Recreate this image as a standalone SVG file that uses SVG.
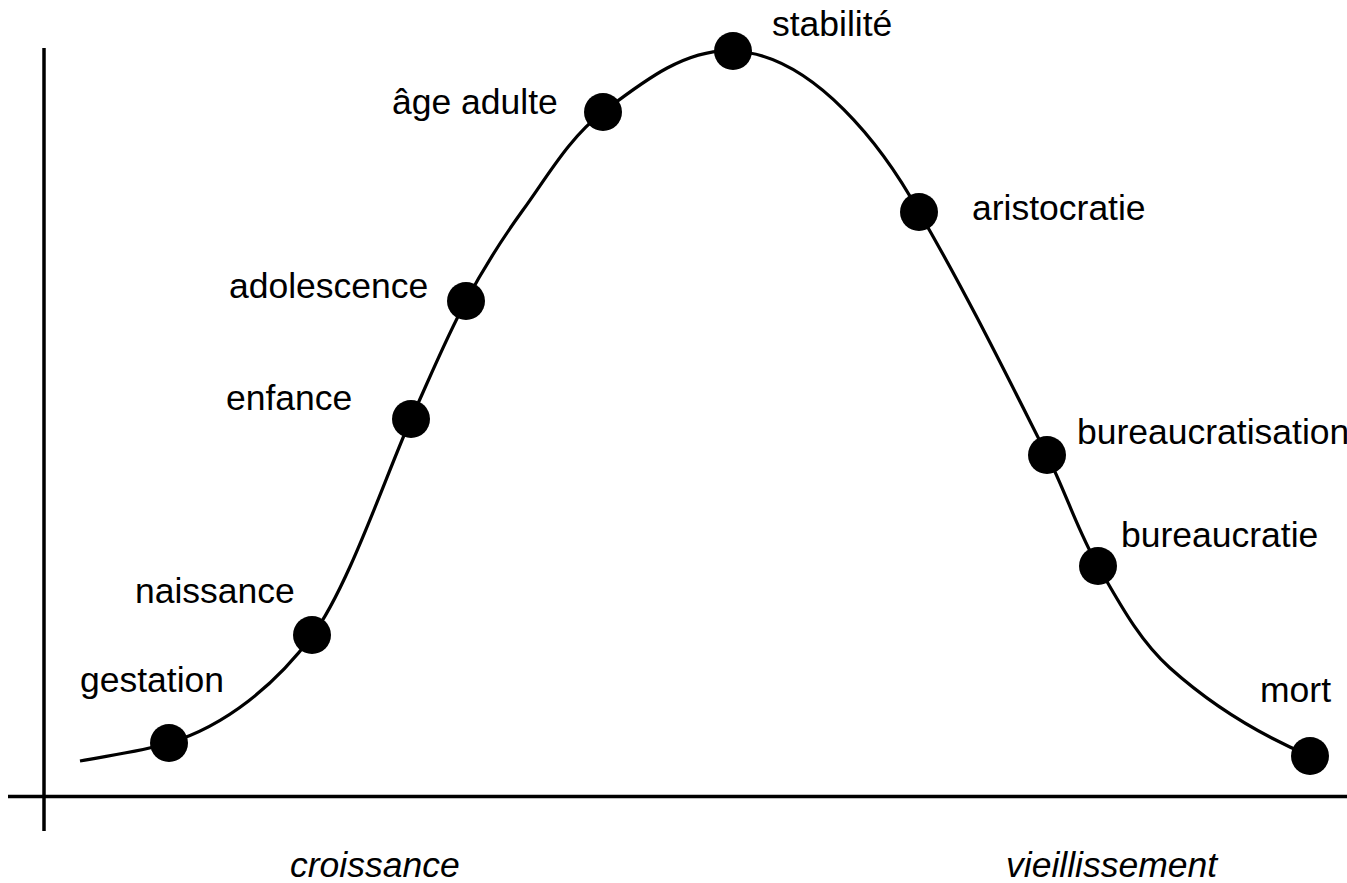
<svg xmlns="http://www.w3.org/2000/svg" width="1347" height="883" viewBox="0 0 1347 883">
  <style>
    .axis { stroke: #000; stroke-width: 3.5; fill: none; }
    .curve { stroke: #000; stroke-width: 3.2; fill: none; stroke-linecap: butt; }
    .dot { fill: #000; }
    .label { font-family: "Liberation Sans", Arial, sans-serif; font-size: 35.5px; fill: #000; }
    .phase { font-family: "Liberation Sans", Arial, sans-serif; font-size: 35.5px; font-style: italic; fill: #000; }
  </style>
  <rect width="1347" height="883" fill="#fff"/>

  <!-- axes -->
  <g id="axes">
    <line class="axis" x1="44" y1="48" x2="44" y2="831"/>
    <line class="axis" x1="8" y1="796.5" x2="1347" y2="796.5"/>
  </g>

  <!-- life-cycle curve -->
  <g id="connectors">
    <path class="curve" d="M80,761 C109.7,755.3 140,751.7 169,743 C226,725.9 276.4,683.7 312,636 C348,588 386,475 411,419 C429.1,379.5 445.5,339.2 466,301 C482.9,269.5 502,239 523,210 C547.8,175.8 569.4,137.5 603,112 C641.2,83.1 685.1,48 733,51 C814,54 885,150 919,212 C965.1,291.1 1005.7,373.4 1047,455 C1065.4,491.3 1077.6,530.8 1098,566 C1118.8,602 1139,640.3 1170,668 C1211,704.8 1259.3,734.5 1310,756"/>
  </g>

  <g id="gestation"><circle class="dot" cx="169" cy="743" r="19"/><text class="label" x="80" y="692">gestation</text></g>
  <g id="naissance"><circle class="dot" cx="312" cy="635" r="19"/><text class="label" x="135" y="603">naissance</text></g>
  <g id="enfance"><circle class="dot" cx="411" cy="419" r="19"/><text class="label" x="226" y="410">enfance</text></g>
  <g id="adolescence"><circle class="dot" cx="466" cy="301" r="19"/><text class="label" x="229" y="298">adolescence</text></g>
  <g id="age-adulte"><circle class="dot" cx="603" cy="112" r="19"/><text class="label" x="392" y="114">âge adulte</text></g>
  <g id="stabilite"><circle class="dot" cx="733" cy="51" r="19"/><text class="label" x="772" y="36">stabilité</text></g>
  <g id="aristocratie"><circle class="dot" cx="919" cy="212" r="19"/><text class="label" x="972" y="220">aristocratie</text></g>
  <g id="bureaucratisation"><circle class="dot" cx="1047" cy="455" r="19"/><text class="label" x="1077" y="444">bureaucratisation</text></g>
  <g id="bureaucratie"><circle class="dot" cx="1098" cy="566" r="19"/><text class="label" x="1121" y="547">bureaucratie</text></g>
  <g id="mort"><circle class="dot" cx="1310" cy="756" r="19"/><text class="label" x="1260" y="702">mort</text></g>

  <!-- phase labels under the axis -->
  <g id="phases">
    <text class="phase" x="290" y="877">croissance</text>
    <text class="phase" x="1006" y="877">vieillissement</text>
  </g>
</svg>
